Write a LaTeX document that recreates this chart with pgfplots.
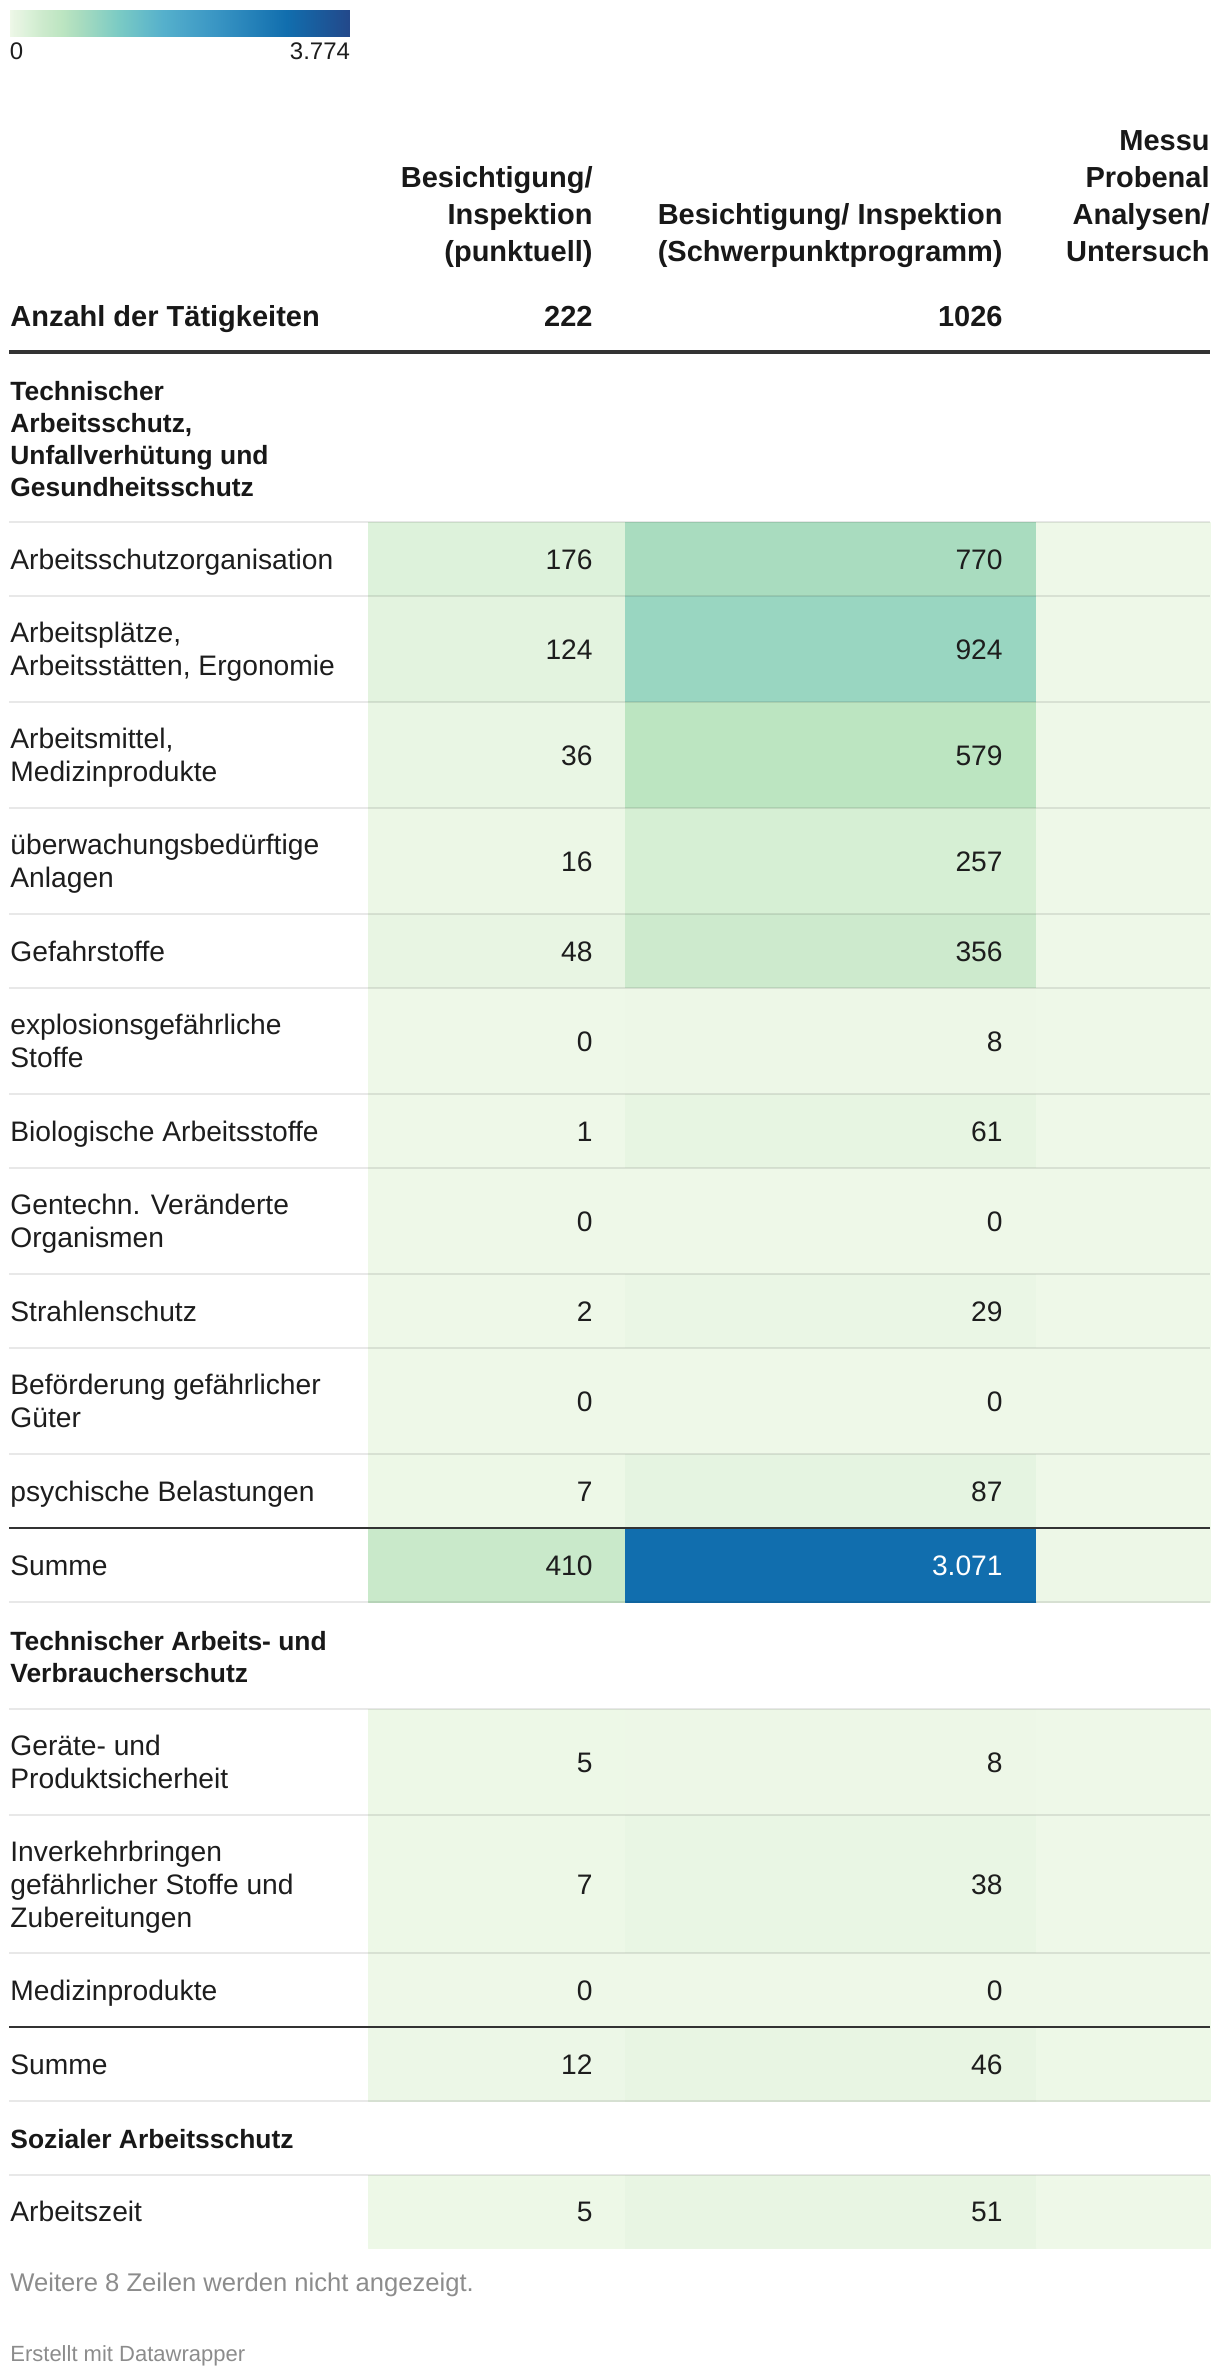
\documentclass[border=0pt]{standalone}
\usepackage{pgfplots}
\pgfplotsset{compat=1.18}
\usepgfplotslibrary{patchplots}
\usepackage{fontspec}
\setmainfont{Liberation Sans}
\definecolor{txt}{HTML}{1D1D1D}
\definecolor{hd}{HTML}{181818}
\definecolor{rulec}{HTML}{333333}
\definecolor{foot}{HTML}{8C8C8C}
\tikzset{
  lab/.style={anchor=base west, inner sep=0pt, font=\fontsize{14.1}{16}\selectfont, text=txt},
  val/.style={anchor=base east, inner sep=0pt, font=\fontsize{14.1}{16}\selectfont, text=txt},
  hdr/.style={anchor=base east, inner sep=0pt, font=\fontsize{14.5}{17}\selectfont\bfseries, text=hd},
  hdl/.style={anchor=base west, inner sep=0pt, font=\fontsize{14.5}{17}\selectfont\bfseries, text=hd},
  grp/.style={anchor=base west, inner sep=0pt, font=\fontsize{13.2}{16}\selectfont\bfseries, text=hd},
  sep/.style={draw=black, draw opacity=0.09, line width=1pt},
  dark/.style={draw=rulec, line width=1.2pt},
}
\begin{document}
\begin{tikzpicture}
\begin{axis}[
  scale only axis, width=610pt, height=1187pt,
  xmin=0, xmax=1220, ymin=0, ymax=2374, y dir=reverse,
  hide axis, clip=false,
  colormap={dw}{
    rgb255(0pt)=(238,248,232)
    rgb255(48pt)=(232,245,227)
    rgb255(124pt)=(227,243,223)
    rgb255(176pt)=(221,242,219)
    rgb255(257pt)=(214,239,212)
    rgb255(356pt)=(205,234,205)
    rgb255(410pt)=(201,233,202)
    rgb255(579pt)=(188,229,193)
    rgb255(770pt)=(169,220,191)
    rgb255(924pt)=(153,214,193)
    rgb255(1200pt)=(123,203,196)
    rgb255(1700pt)=(85,176,204)
    rgb255(2270pt)=(58,150,196)
    rgb255(3071pt)=(17,110,174)
    rgb255(3774pt)=(35,72,138)
  },
  point meta min=0, point meta max=3774,
  colorbar horizontal,
  colorbar style={
    at={(parent axis.north west)}, anchor=north west,
    xshift=5pt, yshift=3.5pt,
    scale only axis, width=170pt, height=13pt,
    xtick={0,3774}, xticklabels={\makebox[0pt][l]{0},\makebox[0pt][r]{3.774}},
    xticklabel style={font=\fontsize{12}{14}\selectfont, text=txt, inner sep=0pt, yshift=-3pt},
    major tick length=0pt, axis line style={draw=none}, xticklabel pos=lower,
  },
]
\path (axis cs:0,0) rectangle (axis cs:1220,2374);

% ---- cells: column 1 (punktuell)
\addplot[patch, patch type=rectangle, shader=faceted, faceted color=mapped color, point meta=explicit] coordinates {
(368,522)[176] (625,522)[176] (625,596)[176] (368,596)[176]
(368,596)[124] (625,596)[124] (625,702)[124] (368,702)[124]
(368,702)[36] (625,702)[36] (625,808)[36] (368,808)[36]
(368,808)[16] (625,808)[16] (625,914)[16] (368,914)[16]
(368,914)[48] (625,914)[48] (625,988)[48] (368,988)[48]
(368,988)[0] (625,988)[0] (625,1094)[0] (368,1094)[0]
(368,1094)[1] (625,1094)[1] (625,1168)[1] (368,1168)[1]
(368,1168)[0] (625,1168)[0] (625,1274)[0] (368,1274)[0]
(368,1274)[2] (625,1274)[2] (625,1348)[2] (368,1348)[2]
(368,1348)[0] (625,1348)[0] (625,1454)[0] (368,1454)[0]
(368,1454)[7] (625,1454)[7] (625,1528)[7] (368,1528)[7]
(368,1528)[410] (625,1528)[410] (625,1602)[410] (368,1602)[410]
(368,1709)[5] (625,1709)[5] (625,1815)[5] (368,1815)[5]
(368,1815)[7] (625,1815)[7] (625,1953)[7] (368,1953)[7]
(368,1953)[0] (625,1953)[0] (625,2027)[0] (368,2027)[0]
(368,2027)[12] (625,2027)[12] (625,2101)[12] (368,2101)[12]
(368,2175)[5] (625,2175)[5] (625,2248)[5] (368,2248)[5]
};
% ---- cells: column 2 (Schwerpunktprogramm)
\addplot[patch, patch type=rectangle, shader=faceted, faceted color=mapped color, point meta=explicit] coordinates {
(625,522)[770] (1036,522)[770] (1036,596)[770] (625,596)[770]
(625,596)[924] (1036,596)[924] (1036,702)[924] (625,702)[924]
(625,702)[579] (1036,702)[579] (1036,808)[579] (625,808)[579]
(625,808)[257] (1036,808)[257] (1036,914)[257] (625,914)[257]
(625,914)[356] (1036,914)[356] (1036,988)[356] (625,988)[356]
(625,988)[8] (1036,988)[8] (1036,1094)[8] (625,1094)[8]
(625,1094)[61] (1036,1094)[61] (1036,1168)[61] (625,1168)[61]
(625,1168)[0] (1036,1168)[0] (1036,1274)[0] (625,1274)[0]
(625,1274)[29] (1036,1274)[29] (1036,1348)[29] (625,1348)[29]
(625,1348)[0] (1036,1348)[0] (1036,1454)[0] (625,1454)[0]
(625,1454)[87] (1036,1454)[87] (1036,1528)[87] (625,1528)[87]
(625,1528)[3071] (1036,1528)[3071] (1036,1602)[3071] (625,1602)[3071]
(625,1709)[8] (1036,1709)[8] (1036,1815)[8] (625,1815)[8]
(625,1815)[38] (1036,1815)[38] (1036,1953)[38] (625,1953)[38]
(625,1953)[0] (1036,1953)[0] (1036,2027)[0] (625,2027)[0]
(625,2027)[46] (1036,2027)[46] (1036,2101)[46] (625,2101)[46]
(625,2175)[51] (1036,2175)[51] (1036,2248)[51] (625,2248)[51]
};
% ---- cells: column 3 (cut off, values estimated small)
\addplot[patch, patch type=rectangle, shader=faceted, faceted color=mapped color, point meta=explicit] coordinates {
(1036,522)[3] (1210,522)[3] (1210,596)[3] (1036,596)[3]
(1036,596)[3] (1210,596)[3] (1210,702)[3] (1036,702)[3]
(1036,702)[3] (1210,702)[3] (1210,808)[3] (1036,808)[3]
(1036,808)[3] (1210,808)[3] (1210,914)[3] (1036,914)[3]
(1036,914)[3] (1210,914)[3] (1210,988)[3] (1036,988)[3]
(1036,988)[3] (1210,988)[3] (1210,1094)[3] (1036,1094)[3]
(1036,1094)[3] (1210,1094)[3] (1210,1168)[3] (1036,1168)[3]
(1036,1168)[3] (1210,1168)[3] (1210,1274)[3] (1036,1274)[3]
(1036,1274)[3] (1210,1274)[3] (1210,1348)[3] (1036,1348)[3]
(1036,1348)[3] (1210,1348)[3] (1210,1454)[3] (1036,1454)[3]
(1036,1454)[3] (1210,1454)[3] (1210,1528)[3] (1036,1528)[3]
(1036,1528)[9] (1210,1528)[9] (1210,1602)[9] (1036,1602)[9]
(1036,1709)[3] (1210,1709)[3] (1210,1815)[3] (1036,1815)[3]
(1036,1815)[3] (1210,1815)[3] (1210,1953)[3] (1036,1953)[3]
(1036,1953)[3] (1210,1953)[3] (1210,2027)[3] (1036,2027)[3]
(1036,2027)[5] (1210,2027)[5] (1210,2101)[5] (1036,2101)[5]
(1036,2175)[3] (1210,2175)[3] (1210,2248)[3] (1036,2248)[3]
};

% ---- rules
\pgfplotsinvokeforeach{522,596,702,808,914,988,1094,1168,1274,1348,1454,1602,1709,1815,1953,2101,2175}{
  \draw[sep] (axis cs:9,#1) -- (axis cs:1210,#1);
}
\draw[draw=rulec, line width=2pt] (axis cs:9,352) -- (axis cs:1210,352);
\draw[dark] (axis cs:9,1528) -- (axis cs:1210,1528);
\draw[dark] (axis cs:9,2027) -- (axis cs:1210,2027);

% ---- header
\node[hdr] at (axis cs:593,187) {Besichtigung/};
\node[hdr] at (axis cs:593,224) {Inspektion};
\node[hdr] at (axis cs:593,261) {(punktuell)};
\node[hdr] at (axis cs:1003,224) {Besichtigung/ Inspektion};
\node[hdr] at (axis cs:1003,261) {(Schwerpunktprogramm)};
% third column header, of which only this much is visible
\node[hdr] at (axis cs:1210,150) {Messu};
\node[hdr] at (axis cs:1210,187) {Probenal};
\node[hdr] at (axis cs:1210,224) {Analysen/};
\node[hdr] at (axis cs:1210,261) {Untersuch};
\node[hdl] at (axis cs:10,326) {Anzahl der Tätigkeiten};
\node[hdr] at (axis cs:593,326) {222};
\node[hdr] at (axis cs:1003,326) {1026};

% ---- group 1
\node[grp] at (axis cs:10,400) {Technischer};
\node[grp] at (axis cs:10,432) {Arbeitsschutz,};
\node[grp] at (axis cs:10,464) {Unfallverhütung und};
\node[grp] at (axis cs:10,496) {Gesundheitsschutz};

\node[lab] at (axis cs:10,569) {Arbeitsschutzorganisation};
\node[val] at (axis cs:593,569) {176};
\node[val] at (axis cs:1003,569) {770};

\node[lab] at (axis cs:10,642.5) {Arbeitsplätze,};
\node[lab] at (axis cs:10,675.5) {Arbeitsstätten, Ergonomie};
\node[val] at (axis cs:593,659) {124};
\node[val] at (axis cs:1003,659) {924};

\node[lab] at (axis cs:10,748.5) {Arbeitsmittel,};
\node[lab] at (axis cs:10,781.5) {Medizinprodukte};
\node[val] at (axis cs:593,765) {36};
\node[val] at (axis cs:1003,765) {579};

\node[lab] at (axis cs:10,854.5) {überwachungsbedürftige};
\node[lab] at (axis cs:10,887.5) {Anlagen};
\node[val] at (axis cs:593,871) {16};
\node[val] at (axis cs:1003,871) {257};

\node[lab] at (axis cs:10,961) {Gefahrstoffe};
\node[val] at (axis cs:593,961) {48};
\node[val] at (axis cs:1003,961) {356};

\node[lab] at (axis cs:10,1034.5) {explosionsgefährliche};
\node[lab] at (axis cs:10,1067.5) {Stoffe};
\node[val] at (axis cs:593,1051) {0};
\node[val] at (axis cs:1003,1051) {8};

\node[lab] at (axis cs:10,1141) {Biologische Arbeitsstoffe};
\node[val] at (axis cs:593,1141) {1};
\node[val] at (axis cs:1003,1141) {61};

\node[lab] at (axis cs:10,1214.5) {Gentechn. Veränderte};
\node[lab] at (axis cs:10,1247.5) {Organismen};
\node[val] at (axis cs:593,1231) {0};
\node[val] at (axis cs:1003,1231) {0};

\node[lab] at (axis cs:10,1321) {Strahlenschutz};
\node[val] at (axis cs:593,1321) {2};
\node[val] at (axis cs:1003,1321) {29};

\node[lab] at (axis cs:10,1394.5) {Beförderung gefährlicher};
\node[lab] at (axis cs:10,1427.5) {Güter};
\node[val] at (axis cs:593,1411) {0};
\node[val] at (axis cs:1003,1411) {0};

\node[lab] at (axis cs:10,1501) {psychische Belastungen};
\node[val] at (axis cs:593,1501) {7};
\node[val] at (axis cs:1003,1501) {87};

\node[lab] at (axis cs:10,1575) {Summe};
\node[val] at (axis cs:593,1575) {410};
\node[val, text=white] at (axis cs:1003,1575) {3.071};

% ---- group 2
\node[grp] at (axis cs:10,1650.5) {Technischer Arbeits- und};
\node[grp] at (axis cs:10,1682.5) {Verbraucherschutz};

\node[lab] at (axis cs:10,1755.5) {Geräte- und};
\node[lab] at (axis cs:10,1788.5) {Produktsicherheit};
\node[val] at (axis cs:593,1772) {5};
\node[val] at (axis cs:1003,1772) {8};

\node[lab] at (axis cs:10,1861) {Inverkehrbringen};
\node[lab] at (axis cs:10,1894) {gefährlicher Stoffe und};
\node[lab] at (axis cs:10,1927) {Zubereitungen};
\node[val] at (axis cs:593,1894) {7};
\node[val] at (axis cs:1003,1894) {38};

\node[lab] at (axis cs:10,2000) {Medizinprodukte};
\node[val] at (axis cs:593,2000) {0};
\node[val] at (axis cs:1003,2000) {0};

\node[lab] at (axis cs:10,2074) {Summe};
\node[val] at (axis cs:593,2074) {12};
\node[val] at (axis cs:1003,2074) {46};

% ---- group 3
\node[grp] at (axis cs:10,2148) {Sozialer Arbeitsschutz};
\node[lab] at (axis cs:10,2221.5) {Arbeitszeit};
\node[val] at (axis cs:593,2221.5) {5};
\node[val] at (axis cs:1003,2221.5) {51};

% ---- footer
\node[anchor=base west, inner sep=0pt, font=\fontsize{12.8}{15}\selectfont, text=foot] at (axis cs:10,2291) {Weitere 8 Zeilen werden nicht angezeigt.};
\node[anchor=base west, inner sep=0pt, font=\fontsize{11}{13}\selectfont, text=foot] at (axis cs:10,2361) {Erstellt mit Datawrapper};
\end{axis}
\end{tikzpicture}
\end{document}
